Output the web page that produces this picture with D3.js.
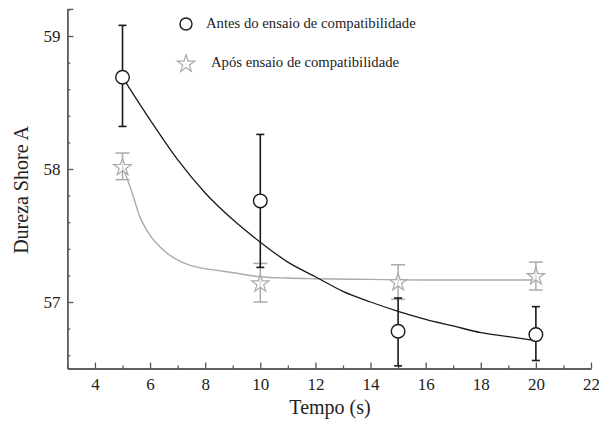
<!DOCTYPE html>
<html><head><meta charset="utf-8">
<script src="https://cdn.jsdelivr.net/npm/d3@7"></script>
<style>body{margin:0;background:#fff}svg{display:block}</style>
</head><body>
<svg id="c" width="599" height="422"></svg>
<script>
// ---- data ----
const times = [5, 10, 15, 20];
const antesMean = [58.69, 57.76, 56.78, 56.755];
const antesHigh = [59.08, 58.26, 57.03, 56.965];
const antesLow  = [58.32, 57.26, 56.52, 56.56];
const aposMean = [58.02, 57.145, 57.155, 57.20];
const aposHigh = [58.12, 57.29, 57.28, 57.30];
const aposLow  = [57.92, 57.00, 57.02, 57.09];
// fitted curves
const antesFitX = [5, 6, 7, 8, 9, 10, 11, 12, 13, 14, 15, 16, 17, 18, 19, 20];
const antesFitY = [58.69, 58.37, 58.07, 57.82, 57.62, 57.45, 57.30, 57.19, 57.08, 57.00, 56.93, 56.87, 56.82, 56.77, 56.74, 56.71];
const aposFitX = [5, 5.35, 5.63, 5.94, 6.54, 7.15, 7.75, 8.36, 9.02, 10, 11, 12, 14, 16, 18, 20];
const aposFitY = [58.02, 57.82, 57.64, 57.52, 57.38, 57.30, 57.26, 57.24, 57.22, 57.19, 57.18, 57.175, 57.17, 57.165, 57.165, 57.165];
const xMajorTicks = [4, 6, 8, 10, 12, 14, 16, 18, 20, 22];
const xMinorTicks = [3, 5, 7, 9, 11, 13, 15, 17, 19, 21];
const yMajorTicks = [57, 58, 59];
const yMinorTicks = [56.6, 56.8, 57.2, 57.4, 57.6, 57.8, 58.2, 58.4, 58.6, 58.8, 59.2];
const seriesNames = ["Antes do ensaio de compatibilidade", "Após ensaio de compatibilidade"];
const xTitle = "Tempo (s)";
const yTitle = "Dureza Shore A";

// ---- drawing ----
const svg = d3.select("#c");
const x = d3.scaleLinear().domain([3, 22]).range([67.4, 591]);
const y = d3.scaleLinear().domain([56.5, 59.2]).range([368.5, 9.4]);
const axisColor = "#555";
const serif = "'Liberation Serif','Times New Roman',serif";
const black = "#1a1a1a", gray = "#aaaaaa";

// axes
const xAx = svg.append("g").attr("transform", `translate(0,${y(56.5)})`)
  .call(d3.axisBottom(x).tickValues(xMajorTicks).tickSizeInner(-6).tickSizeOuter(0).tickPadding(9).tickFormat(d3.format("d")));
const xAxMin = svg.append("g").attr("transform", `translate(0,${y(56.5)})`)
  .call(d3.axisBottom(x).tickValues(xMinorTicks).tickSizeInner(-3).tickSizeOuter(0).tickFormat(""));
const yAx = svg.append("g").attr("transform", `translate(${x(3)},0)`)
  .call(d3.axisLeft(y).tickValues(yMajorTicks).tickSizeInner(-6).tickSizeOuter(0).tickPadding(7).tickFormat(d3.format("d")));
const yAxMin = svg.append("g").attr("transform", `translate(${x(3)},0)`)
  .call(d3.axisLeft(y).tickValues(yMinorTicks).tickSizeInner(-3).tickSizeOuter(0).tickFormat(""));
[xAx, xAxMin, yAx, yAxMin].forEach(g => {
  g.attr("font-family", serif);
  g.selectAll(".domain").attr("stroke", axisColor).attr("stroke-width", 1.3);
  g.selectAll(".tick line").attr("stroke", axisColor).attr("stroke-width", 1.3);
  g.selectAll("text").attr("fill", "#222").attr("font-family", serif).attr("font-size", 17);
});
xAx.selectAll("text").attr("dy", "0.71em");
yAx.selectAll("text").attr("dy", "0.35em");
// top cap of y axis
svg.append("line").attr("x1", x(3)).attr("x2", x(3) + 6).attr("y1", y(59.2)).attr("y2", y(59.2))
  .attr("stroke", axisColor).attr("stroke-width", 1.3);

// titles
svg.append("text").attr("x", 330).attr("y", 414).attr("text-anchor", "middle")
  .attr("font-family", serif).attr("font-size", 20).attr("fill", "#222").text(xTitle);
svg.append("text").attr("transform", "translate(28,190) rotate(-90)").attr("text-anchor", "middle")
  .attr("font-family", serif).attr("font-size", 20).attr("fill", "#222").text(yTitle);

// fit curves
const line = d3.line().x(d => x(d[0])).y(d => y(d[1])).curve(d3.curveMonotoneX);
svg.append("path").datum(aposFitX.map((v, i) => [v, aposFitY[i]]))
  .attr("d", line).attr("fill", "none").attr("stroke", gray).attr("stroke-width", 1.4);
svg.append("path").datum(antesFitX.map((v, i) => [v, antesFitY[i]]))
  .attr("d", line).attr("fill", "none").attr("stroke", black).attr("stroke-width", 1.3);

// error bars
function errBars(lo, hi, color, cap, w) {
  const g = svg.append("g").attr("stroke", color).attr("stroke-width", w);
  times.forEach((t, i) => {
    g.append("line").attr("x1", x(t)).attr("x2", x(t)).attr("y1", y(lo[i])).attr("y2", y(hi[i]));
    [lo[i], hi[i]].forEach(v => g.append("line").attr("x1", x(t) - cap / 2).attr("x2", x(t) + cap / 2)
      .attr("y1", y(v)).attr("y2", y(v)));
  });
}
errBars(aposLow, aposHigh, gray, 14, 1.5);
errBars(antesLow, antesHigh, black, 8, 1.6);

// markers
const star = d3.symbol(d3.symbolStar).size(95);
svg.append("g").selectAll("path").data(times).join("path")
  .attr("transform", (t, i) => `translate(${x(t)},${y(aposMean[i]) + 1})`)
  .attr("d", star).attr("fill", "#fff").attr("fill-opacity", 0.6).attr("stroke", gray).attr("stroke-width", 1.2);
svg.append("g").selectAll("circle").data(times).join("circle")
  .attr("cx", t => x(t)).attr("cy", (t, i) => y(antesMean[i])).attr("r", 6.8)
  .attr("fill", "#fff").attr("stroke", black).attr("stroke-width", 1.4);

// legend
svg.append("circle").attr("cx", 186).attr("cy", 24).attr("r", 6).attr("fill", "#fff")
  .attr("stroke", black).attr("stroke-width", 1.4);
svg.append("text").attr("x", 206).attr("y", 28).attr("font-family", serif).attr("font-size", 14.7)
  .attr("fill", "#222").text(seriesNames[0]);
svg.append("path").attr("transform", "translate(186,64)").attr("d", star)
  .attr("fill", "#fff").attr("stroke", gray).attr("stroke-width", 1.2);
svg.append("text").attr("x", 211).attr("y", 67).attr("font-family", serif).attr("font-size", 14.7)
  .attr("fill", "#222").text(seriesNames[1]);
</script>
</body></html>
